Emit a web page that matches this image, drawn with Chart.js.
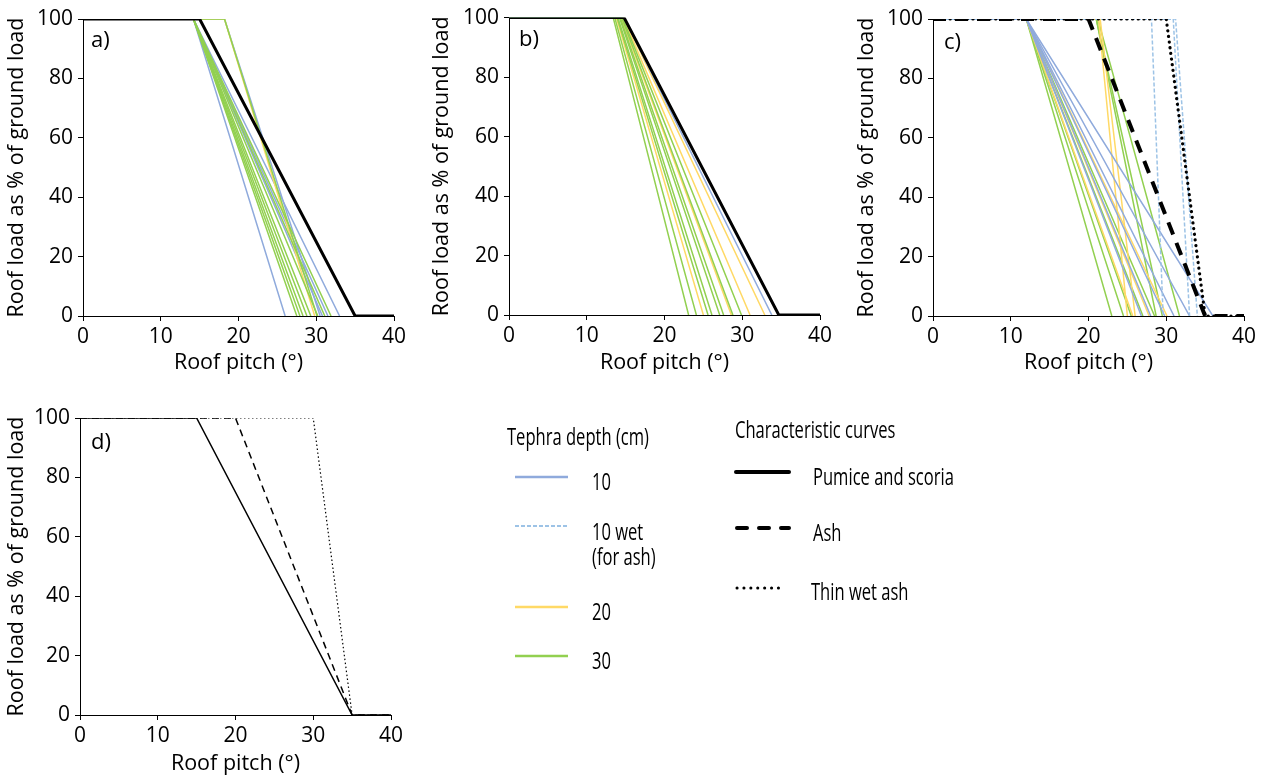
<!DOCTYPE html>
<html>
<head>
<meta charset="utf-8">
<script src="https://cdn.jsdelivr.net/npm/chart.js@4.4.1/dist/chart.umd.min.js"></script>
<style>
  body { margin: 0; background: #fff; width: 1261px; height: 778px; position: relative; overflow: hidden; font-family: "Open Sans", sans-serif; color: #000; }
  canvas { position: absolute; }
  .plbl { position: absolute; font-size: 22px; line-height: 24px; white-space: nowrap; }
  .leg { position: absolute; font-size: 23px; line-height: 26px; white-space: nowrap; transform: scaleX(0.72); transform-origin: 0 50%; }
  svg { position: absolute; left: 0; top: 0; }
</style>
</head>
<body>
<canvas id="pa" width="420" height="380" style="left:0;top:0"></canvas>
<canvas id="pb" width="420" height="380" style="left:425px;top:0"></canvas>
<canvas id="pc" width="411" height="380" style="left:850px;top:0"></canvas>
<canvas id="pd" width="420" height="378" style="left:0;top:400px"></canvas>

<div class="plbl" style="left:91px;top:26px">a)</div>
<div class="plbl" style="left:519px;top:25px">b)</div>
<div class="plbl" style="left:944px;top:28px">c)</div>
<div class="plbl" style="left:91px;top:428px">d)</div>

<svg width="1261" height="778">
  <line x1="515" y1="477" x2="568" y2="477" stroke="#8faadc" stroke-width="2.5"/>
  <line x1="515" y1="526" x2="568" y2="526" stroke="#9dc3e6" stroke-width="2" stroke-dasharray="4 2"/>
  <line x1="515" y1="607" x2="568" y2="607" stroke="#ffd966" stroke-width="2.5"/>
  <line x1="515" y1="656" x2="568" y2="656" stroke="#92d050" stroke-width="2.5"/>
  <line x1="736" y1="472" x2="789" y2="472" stroke="#000" stroke-width="4" stroke-linecap="round"/>
  <line x1="737" y1="528" x2="789" y2="528" stroke="#000" stroke-width="4" stroke-linecap="round" stroke-dasharray="10 12"/>
  <line x1="737" y1="588" x2="785" y2="588" stroke="#000" stroke-width="3" stroke-linecap="round" stroke-dasharray="0.1 6.8"/>
</svg>
<div class="leg" style="left:507px;top:423px">Tephra depth (cm)</div>
<div class="leg" style="left:592px;top:468px">10</div>
<div class="leg" style="left:592px;top:518px">10 wet</div>
<div class="leg" style="left:592px;top:543px">(for ash)</div>
<div class="leg" style="left:592px;top:598px">20</div>
<div class="leg" style="left:592px;top:647px">30</div>
<div class="leg" style="left:735px;top:416px">Characteristic curves</div>
<div class="leg" style="left:813px;top:463px">Pumice and scoria</div>
<div class="leg" style="left:813px;top:519px">Ash</div>
<div class="leg" style="left:811px;top:578px">Thin wet ash</div>

<script>
const pitchTicks = [0, 10, 20, 30, 40];
const loadTicks = [0, 20, 40, 60, 80, 100];

// each curve: [pitch where the load starts to fall, pitch where it reaches 0]
// a)
const a10 = [[14.2, 26.0], [14.2, 30.8], [14.2, 31.5], [14.2, 33.0], [18.2, 30.5]];
const a20 = [[18.2, 29.8]];
const a30 = [[14.2, 27.5], [14.2, 27.9], [14.2, 28.3], [14.2, 28.8], [14.2, 29.3], [14.2, 30.2], [14.2, 31.1], [14.2, 31.9], [18.2, 30.1]];
const aPumice = [15, 35];
// b)
const b10 = [[14.8, 33.8]];
const b20 = [[13.8, 25.0], [14.4, 28.6], [14.7, 31.0], [14.8, 32.9]];
const b30 = [[13.4, 23.1], [13.6, 24.1], [13.9, 25.6], [14.0, 26.1], [14.2, 27.1], [14.3, 27.6], [14.5, 28.8], [14.6, 29.9]];
const bPumice = [14.8, 34.7];
// c)
const c10 = [[12, 26.8], [12, 28.0], [12, 29.8], [12, 31.0], [12, 33.0], [12, 36.0]];
const c10wet = [[28.1, 29.6], [30.9, 33.0], [31.2, 34.0]];
const c20 = [[12, 25.7], [12, 27.8], [12, 30.1], [21.3, 25.0], [21.5, 26.0]];
const c30 = [[12, 23.0], [12, 24.5], [12, 25.5], [12, 27.0], [12, 28.5], [21, 28.7], [21, 29.5], [21.2, 31.7]];
const cAsh = [20, 35];
const cThinWet = [30, 35];
// d)
const dPumice = [15, 35];
const dAsh = [20, 35];
const dThinWet = [30, 35];

const BLUE = '#8faadc', LIGHTBLUE = '#9dc3e6', YELLOW = '#ffd966', GREEN = '#92d050';

Chart.defaults.font.family = '"Open Sans", sans-serif';
Chart.defaults.font.size = 21;
Chart.defaults.color = '#000';

function curve(c, toEnd) {
    var pts = [{x: 0, y: 100}, {x: c[0], y: 100}, {x: c[1], y: 0}];
    if (toEnd) pts.push({x: 40, y: 0});
    return pts;
}

function group(list, color, dash) {
    return list.map(function (c) {
        return {data: curve(c), borderColor: color, borderWidth: 1.5, borderDash: dash || [], order: 1};
    });
}

function blackCurve(c, width, dash, cap) {
    return {data: curve(c, true), borderColor: '#000', borderWidth: width, borderDash: dash || [],
        borderCapStyle: cap || 'butt', order: 0};
}

function panel(id, sets, geo) {
    new Chart(document.getElementById(id), {
        type: 'line',
        data: {datasets: sets},
        options: {
            responsive: false,
            animation: false,
            events: [],
            layout: {padding: {left: 0, top: geo.top, right: geo.right, bottom: 0}},
            elements: {point: {radius: 0}, line: {tension: 0}},
            plugins: {legend: {display: false}, tooltip: {enabled: false}},
            scales: {
                x: {
                    type: 'linear', min: 0, max: 40,
                    afterBuildTicks: function (s) { s.ticks = pitchTicks.map(function (v) { return {value: v}; }); },
                    afterFit: function (s) { s.height = geo.xh; },
                    grid: {drawOnChartArea: false, color: '#000', tickLength: 5},
                    border: {color: '#000', width: 1},
                    ticks: {padding: 3, maxRotation: 0},
                    title: {display: true, text: 'Roof pitch (°)', font: {size: 21.5}, padding: {top: 0, bottom: geo.tb}}
                },
                y: {
                    min: 0, max: 100,
                    afterBuildTicks: function (s) { s.ticks = loadTicks.map(function (v) { return {value: v}; }); },
                    afterFit: function (s) { s.width = geo.yw; },
                    grid: {drawOnChartArea: false, color: '#000', tickLength: 5},
                    border: {color: '#000', width: 1},
                    ticks: {padding: 5},
                    title: {display: true, text: 'Roof load as % of ground load', font: {size: 21.5}, padding: {top: 4, bottom: 0}}
                }
            }
        }
    });
}

panel('pa', [blackCurve(aPumice, 3)]
    .concat(group(a30, GREEN), group(a20, YELLOW), group(a10, BLUE)),
    {top: 19, right: 26, xh: 64, yw: 83, tb: 4});

panel('pb', [blackCurve(bPumice, 3)]
    .concat(group(b10, BLUE), group(b30, GREEN), group(b20, YELLOW)),
    {top: 17, right: 25, xh: 65, yw: 84, tb: 4});

panel('pc', [blackCurve(cAsh, 4, [13, 9]), blackCurve(cThinWet, 3.2, [0.1, 5.6], 'round')]
    .concat(group(c10wet, LIGHTBLUE, [4, 2]), group(c10, BLUE), group(c20, YELLOW), group(c30, GREEN)),
    {top: 19, right: 17, xh: 64, yw: 83, tb: 4});

panel('pd', [blackCurve(dPumice, 1.5), blackCurve(dAsh, 1.5, [7, 5]), blackCurve(dThinWet, 1.2, [1.5, 2.5])],
    {top: 18, right: 29, xh: 63, yw: 80, tb: 1});
</script>
</body>
</html>
